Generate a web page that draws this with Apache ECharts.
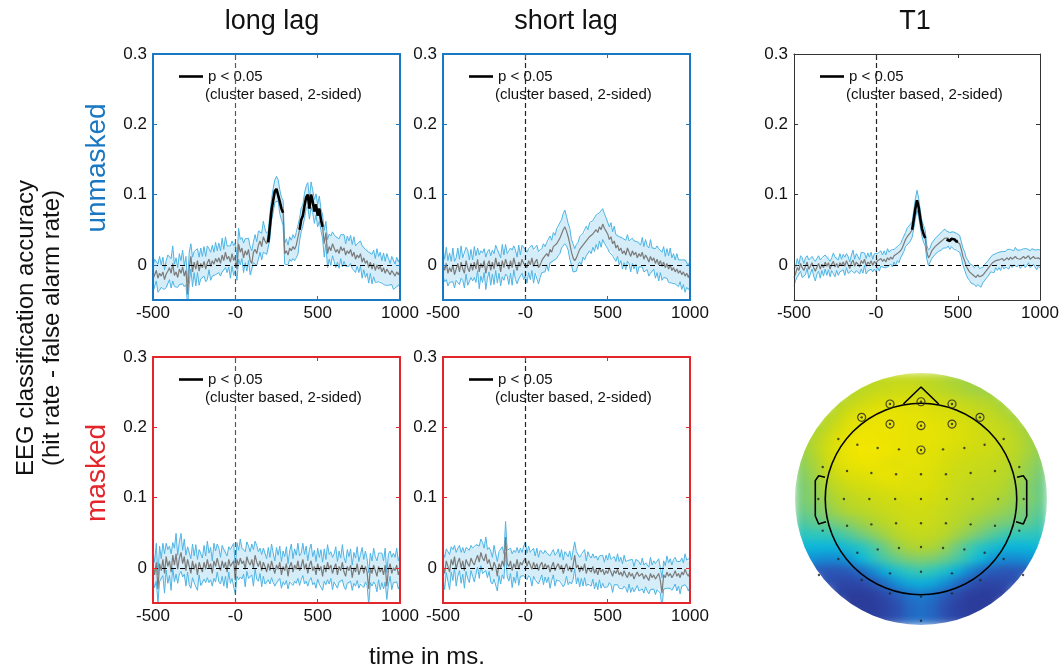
<!DOCTYPE html>
<html><head><meta charset="utf-8">
<script src="https://cdn.jsdelivr.net/npm/echarts@6/dist/echarts.min.js"></script>
<style>html,body{margin:0;padding:0;background:#fff}
#wrap{position:relative;width:1062px;height:672px}
#topo,#c{position:absolute;left:0;top:0;width:1062px;height:672px}
#topo{filter:blur(4px)}</style>
</head><body><div id="wrap"><div id="topo"></div><div id="c"></div></div>
<script>
// ---------------- data ----------------
const timeStart = -500, timeStep = 10;           // samples every 10 ms, -500 .. 1000
const xTickValues = [-500, 0, 500, 1000];
const xTickLabels = ['-500', '-0', '500', '1000'];
const yTickValues = [0, 0.1, 0.2, 0.3];
const yTickLabels = ['0', '0.1', '0.2', '0.3'];
const panelTitles = ['long lag', 'short lag', 'T1'];
const rowLabels = ['unmasked', 'masked'];
const yTitle1 = 'EEG classification accuracy';
const yTitle2 = '(hit rate - false alarm rate)';
const xTitle = 'time in ms.';
const legendLine1 = 'p < 0.05';
const legendLine2 = '(cluster based, 2-sided)';

// long lag, unmasked
const longLagUnmaskedMean = [
 -0.020,-0.014,-0.008,-0.019,-0.012,-0.016,-0.010,-0.021,-0.013,-0.009,
 -0.004,-0.012, 0.002,-0.015,-0.010,-0.018,-0.006,-0.012,-0.003,-0.016,
 -0.008,-0.042,-0.005, 0.012,-0.010, 0.004,-0.006, 0.006,-0.009, 0.002,
 -0.004, 0.005,-0.006, 0.003, 0.008,-0.002, 0.006, 0.001, 0.009, 0.004,
  0.010, 0.002, 0.014, 0.006, 0.018, 0.008, 0.012, 0.004, 0.016, 0.006,
  0.012,-0.006, 0.030, 0.018, 0.024, 0.010, 0.020, 0.014, 0.022, 0.006,
  0.002, 0.018, 0.022, 0.016, 0.028, 0.034, 0.026, 0.040, 0.034, 0.030,
  0.032, 0.055, 0.078, 0.092, 0.105, 0.108, 0.106, 0.090, 0.080, 0.074,
  0.016, 0.020, 0.014, 0.024, 0.020, 0.026, 0.022, 0.028, 0.030, 0.050,
  0.064, 0.070, 0.084, 0.096, 0.100, 0.080, 0.100, 0.090, 0.076, 0.086,
  0.070, 0.080, 0.064, 0.054, 0.030, 0.046, 0.016, 0.026, 0.020, 0.030,
  0.024, 0.018, 0.022, 0.016, 0.026, 0.020, 0.024, 0.014, 0.020, 0.016,
  0.022, 0.012, 0.018, 0.008, 0.014, 0.010, 0.016, 0.004, 0.010, 0.002,
  0.006,-0.004, 0.004,-0.006, 0.002,-0.008, 0.000,-0.006,-0.002,-0.010,
 -0.004,-0.012,-0.006,-0.010,-0.014,-0.008,-0.012,-0.016,-0.010,-0.014,
 -0.008];
const longLagUnmaskedSem = [
 0.018,0.022,0.015,0.020,0.024,0.016,0.021,0.014,0.019,0.023,
 0.017,0.021,0.025,0.016,0.020,0.014,0.022,0.018,0.024,0.015,
 0.020,0.016,0.023,0.018,0.021,0.015,0.024,0.017,0.020,0.022,
 0.016,0.021,0.018,0.024,0.015,0.020,0.022,0.017,0.023,0.016,
 0.021,0.018,0.024,0.016,0.022,0.019,0.015,0.023,0.018,0.021,
 0.020,0.016,0.022,0.018,0.015,0.021,0.017,0.023,0.016,0.020,
 0.018,0.015,0.021,0.017,0.020,0.016,0.019,0.022,0.017,0.015,
 0.016,0.018,0.015,0.017,0.016,0.018,0.015,0.017,0.016,0.018,
 0.015,0.017,0.014,0.016,0.015,0.017,0.016,0.018,0.015,0.016,
 0.017,0.015,0.018,0.016,0.017,0.015,0.018,0.016,0.017,0.015,
 0.016,0.018,0.015,0.017,0.019,0.016,0.020,0.018,0.021,0.017,
 0.019,0.022,0.018,0.021,0.017,0.023,0.019,0.016,0.021,0.018,
 0.020,0.017,0.022,0.019,0.016,0.021,0.018,0.023,0.017,0.020,
 0.018,0.022,0.016,0.021,0.019,0.017,0.023,0.018,0.020,0.016,
 0.021,0.017,0.022,0.019,0.016,0.020,0.023,0.017,0.021,0.018,
 0.019];
const longLagUnmaskedSig = [[200, 290], [390, 530]];

// short lag, unmasked
const shortLagUnmaskedMean = [
  0.004,-0.008, 0.002,-0.012,-0.004,-0.010, 0.000,-0.014,-0.006, 0.002,
 -0.010, 0.004,-0.006,-0.012, 0.006,-0.004,-0.010, 0.002,-0.008, 0.004,
 -0.006, 0.008,-0.010, 0.002,-0.004, 0.006,-0.012, 0.000, 0.006,-0.008,
  0.004,-0.006, 0.010,-0.002, 0.004,-0.010, 0.006,-0.004, 0.008, 0.000,
 -0.006, 0.006,-0.004, 0.010, 0.000,-0.008, 0.004,-0.002, 0.008, 0.002,
  0.004,-0.004, 0.006, 0.000, 0.010,-0.002, 0.004, 0.008,-0.004, 0.000,
  0.006, 0.010, 0.008, 0.016, 0.012, 0.022, 0.018, 0.026, 0.024, 0.030,
  0.032, 0.038, 0.044, 0.050, 0.054, 0.048, 0.040, 0.030, 0.018, 0.010,
  0.006, 0.010, 0.016, 0.022, 0.020, 0.028, 0.026, 0.034, 0.032, 0.040,
  0.038, 0.044, 0.042, 0.050, 0.046, 0.054, 0.050, 0.058, 0.052, 0.048,
  0.044, 0.036, 0.040, 0.030, 0.034, 0.024, 0.028, 0.020, 0.024, 0.016,
  0.020, 0.014, 0.024, 0.018, 0.012, 0.020, 0.014, 0.018, 0.010, 0.016,
  0.012, 0.018, 0.008, 0.014, 0.010, 0.004, 0.012, 0.006, 0.010, 0.002,
  0.008, 0.000, 0.006,-0.002, 0.004,-0.004, 0.002,-0.006, 0.000,-0.008,
 -0.004,-0.010,-0.006,-0.012,-0.008,-0.014,-0.010,-0.016,-0.012,-0.018,
 -0.012];
const shortLagUnmaskedSem = [
 0.020,0.016,0.023,0.018,0.021,0.015,0.024,0.019,0.016,0.022,
 0.018,0.023,0.016,0.021,0.019,0.025,0.017,0.020,0.015,0.022,
 0.019,0.016,0.024,0.018,0.021,0.017,0.023,0.019,0.016,0.021,
 0.017,0.022,0.018,0.024,0.016,0.020,0.023,0.018,0.021,0.016,
 0.022,0.018,0.025,0.017,0.021,0.019,0.024,0.016,0.020,0.023,
 0.019,0.022,0.017,0.021,0.018,0.024,0.016,0.020,0.023,0.018,
 0.017,0.020,0.018,0.016,0.021,0.019,0.017,0.020,0.018,0.021,
 0.019,0.022,0.020,0.023,0.024,0.021,0.019,0.022,0.018,0.020,
 0.017,0.019,0.016,0.018,0.020,0.017,0.019,0.021,0.018,0.020,
 0.022,0.019,0.023,0.021,0.024,0.020,0.025,0.022,0.021,0.019,
 0.021,0.018,0.020,0.017,0.021,0.019,0.016,0.020,0.018,0.022,
 0.017,0.021,0.019,0.016,0.022,0.018,0.020,0.017,0.023,0.019,
 0.016,0.021,0.018,0.022,0.017,0.020,0.024,0.018,0.016,0.021,
 0.019,0.023,0.017,0.020,0.022,0.016,0.021,0.019,0.024,0.018,
 0.020,0.017,0.022,0.019,0.016,0.021,0.018,0.023,0.020,0.017,
 0.019];
const shortLagUnmaskedSig = [];

// T1
const t1Mean = [
 -0.018,-0.012,-0.004,-0.008, 0.002,-0.004,-0.008,-0.002, 0.004,-0.006,
 -0.002, 0.003,-0.004,-0.009,-0.003, 0.002,-0.006, 0.001,-0.004, 0.004,
 -0.002, 0.003,-0.006, 0.001, 0.005,-0.003, 0.002,-0.004, 0.003,-0.001,
  0.004,-0.002, 0.006, 0.000,-0.005, 0.003, 0.007,-0.002, 0.004, 0.001,
 -0.003, 0.006, 0.002, 0.008,-0.002, 0.004, 0.001, 0.006,-0.001, 0.005,
  0.002, 0.006, 0.004, 0.009, 0.005, 0.008, 0.004, 0.010, 0.007, 0.011,
  0.008, 0.013, 0.011, 0.016, 0.014, 0.020, 0.024, 0.030, 0.036, 0.040,
  0.042, 0.046, 0.050, 0.064, 0.080, 0.092, 0.082, 0.066, 0.052, 0.044,
  0.038, 0.018, 0.010, 0.014, 0.020, 0.022, 0.026, 0.028, 0.030, 0.032,
  0.034, 0.036, 0.038, 0.036, 0.038, 0.034, 0.037, 0.035, 0.036, 0.033,
  0.034, 0.030, 0.022, 0.012, 0.006,-0.002,-0.006,-0.010,-0.012,-0.014,
 -0.016,-0.018,-0.014,-0.017,-0.019,-0.015,-0.012,-0.010,-0.006,-0.004,
  0.000, 0.003, 0.002, 0.006, 0.004, 0.007, 0.005, 0.009, 0.006, 0.008,
  0.010, 0.007, 0.011, 0.008, 0.010, 0.012, 0.009, 0.011, 0.008, 0.010,
  0.012, 0.009, 0.011, 0.013, 0.008, 0.010, 0.012, 0.009, 0.007, 0.010,
  0.008];
const t1Sem = [
 0.012,0.010,0.013,0.009,0.011,0.014,0.010,0.012,0.009,0.013,
 0.011,0.009,0.012,0.014,0.010,0.011,0.013,0.009,0.012,0.010,
 0.013,0.010,0.011,0.009,0.012,0.014,0.010,0.011,0.013,0.009,
 0.011,0.013,0.010,0.012,0.009,0.011,0.014,0.010,0.012,0.011,
 0.010,0.012,0.014,0.009,0.011,0.013,0.010,0.012,0.009,0.011,
 0.012,0.010,0.013,0.011,0.009,0.012,0.010,0.013,0.011,0.010,
 0.011,0.009,0.012,0.010,0.011,0.010,0.012,0.011,0.010,0.012,
 0.011,0.012,0.011,0.013,0.014,0.014,0.013,0.012,0.011,0.012,
 0.011,0.010,0.011,0.010,0.011,0.012,0.011,0.012,0.011,0.012,
 0.013,0.012,0.013,0.012,0.011,0.012,0.011,0.012,0.011,0.012,
 0.011,0.012,0.011,0.012,0.013,0.012,0.013,0.012,0.014,0.013,
 0.012,0.013,0.014,0.012,0.013,0.011,0.012,0.010,0.011,0.012,
 0.010,0.011,0.013,0.010,0.012,0.011,0.013,0.010,0.012,0.011,
 0.012,0.013,0.011,0.012,0.010,0.013,0.012,0.011,0.013,0.012,
 0.011,0.013,0.012,0.010,0.012,0.013,0.011,0.012,0.014,0.012,
 0.013];
const t1Sig = [[220, 300], [430, 500]];

// long lag, masked
const longLagMaskedMean = [
  0.004,-0.010, 0.008,-0.030, 0.006,-0.004, 0.012,-0.008, 0.016, 0.002,
  0.010,-0.006, 0.018, 0.004, 0.020,-0.002, 0.014, 0.022, 0.006, 0.016,
 -0.004, 0.012, 0.002,-0.008, 0.010,-0.002, 0.006,-0.010, 0.008, 0.000,
 -0.006, 0.008,-0.002, 0.012, 0.000, 0.006,-0.008, 0.010, 0.002, 0.014,
  0.004,-0.004, 0.010, 0.000, 0.008,-0.006, 0.012, 0.002, 0.006, 0.010,
 -0.018, 0.012, 0.004, 0.014, 0.006, 0.010,-0.002, 0.016, 0.008, 0.004,
  0.012, 0.000, 0.018, 0.008, 0.002, 0.010,-0.004, 0.008, 0.002,-0.006,
  0.006,-0.004, 0.010, 0.000,-0.008, 0.004,-0.002, 0.008,-0.010, 0.002,
 -0.004, 0.006,-0.012, 0.002, 0.008,-0.006, 0.004,-0.002, 0.010,-0.004,
  0.002, 0.012,-0.002, 0.006,-0.008, 0.004, 0.010,-0.004, 0.002,-0.010,
  0.006,-0.004, 0.002,-0.012, 0.004,-0.006, 0.008,-0.002, 0.004,-0.008,
  0.000, 0.006,-0.010, 0.002,-0.004, 0.008,-0.006,-0.012, 0.002,-0.004,
  0.004,-0.014, 0.000,-0.006, 0.006,-0.010,-0.002, 0.004,-0.008, 0.002,
 -0.006,-0.030, 0.000,-0.008, 0.004,-0.004,-0.012, 0.002,-0.006, 0.000,
 -0.010, 0.004,-0.026,-0.002, 0.006,-0.008, 0.000,-0.004, 0.004,-0.010,
 -0.002];
const longLagMaskedSem = [
 0.022,0.018,0.027,0.020,0.025,0.017,0.023,0.028,0.019,0.024,
 0.021,0.026,0.018,0.024,0.029,0.020,0.023,0.027,0.019,0.025,
 0.022,0.018,0.026,0.021,0.024,0.019,0.027,0.022,0.018,0.025,
 0.020,0.024,0.019,0.026,0.021,0.023,0.018,0.025,0.022,0.020,
 0.024,0.019,0.022,0.026,0.020,0.023,0.018,0.024,0.021,0.025,
 0.020,0.024,0.021,0.027,0.022,0.019,0.025,0.021,0.023,0.019,
 0.022,0.026,0.020,0.024,0.021,0.018,0.023,0.020,0.025,0.019,
 0.023,0.019,0.024,0.021,0.018,0.025,0.020,0.023,0.019,0.022,
 0.020,0.024,0.018,0.022,0.026,0.019,0.023,0.020,0.025,0.021,
 0.019,0.023,0.021,0.025,0.018,0.022,0.024,0.020,0.023,0.019,
 0.022,0.019,0.024,0.020,0.023,0.018,0.025,0.021,0.019,0.023,
 0.020,0.024,0.019,0.022,0.018,0.025,0.021,0.019,0.024,0.020,
 0.023,0.018,0.022,0.020,0.024,0.019,0.021,0.025,0.020,0.022,
 0.019,0.023,0.021,0.018,0.024,0.020,0.022,0.019,0.025,0.021,
 0.020,0.024,0.019,0.022,0.018,0.023,0.021,0.019,0.024,0.020,
 0.022];
const longLagMaskedSig = [];

// short lag, masked
const shortLagMaskedMean = [
  0.004,-0.008, 0.010, 0.002,-0.006, 0.012, 0.004, 0.016,-0.002, 0.008,
  0.014, 0.000, 0.010,-0.004, 0.012, 0.006, 0.002, 0.014, 0.008, 0.004,
  0.012, 0.018, 0.008, 0.022, 0.014, 0.010, 0.020, 0.006, 0.012, 0.002,
 -0.004, 0.008, 0.002,-0.012, 0.006, 0.000, 0.010, 0.002, 0.044, 0.006,
  0.002, 0.010,-0.004, 0.006, 0.000, 0.012,-0.002, 0.008, 0.004, 0.010,
  0.014, 0.002, 0.010, 0.004,-0.002, 0.008, 0.000, 0.006,-0.004, 0.004,
  0.008,-0.002, 0.006, 0.000, 0.004,-0.006, 0.002, 0.008,-0.004, 0.002,
  0.006,-0.002, 0.004,-0.008, 0.000, 0.006,-0.004, 0.002,-0.006, 0.004,
  0.018, 0.000, 0.004,-0.006, 0.002,-0.004, 0.006,-0.008, 0.000,-0.002,
 -0.006, 0.002,-0.008,-0.002,-0.010, 0.000,-0.006,-0.002,-0.010,-0.004,
 -0.008, 0.000,-0.006,-0.012,-0.004,-0.008,-0.002,-0.010,-0.006,-0.012,
 -0.004,-0.010,-0.014,-0.006,-0.012,-0.008,-0.016,-0.010,-0.006,-0.012,
 -0.014,-0.008,-0.016,-0.010,-0.012,-0.018,-0.008,-0.014,-0.010,-0.016,
 -0.012,-0.008,-0.018,-0.036,-0.010,-0.014,-0.006,-0.012,-0.008,-0.014,
 -0.010,-0.004,-0.012,-0.008,-0.014,-0.006,-0.010,-0.002,-0.008,-0.012,
 -0.006];
const shortLagMaskedSem = [
 0.019,0.023,0.017,0.021,0.025,0.018,0.022,0.016,0.024,0.020,
 0.018,0.022,0.019,0.025,0.017,0.021,0.023,0.018,0.020,0.024,
 0.021,0.017,0.023,0.019,0.022,0.018,0.024,0.020,0.017,0.022,
 0.019,0.024,0.018,0.021,0.017,0.023,0.020,0.018,0.022,0.019,
 0.021,0.018,0.024,0.019,0.022,0.017,0.023,0.020,0.018,0.021,
 0.023,0.019,0.021,0.018,0.024,0.020,0.017,0.022,0.019,0.021,
 0.018,0.022,0.019,0.021,0.017,0.023,0.020,0.018,0.022,0.019,
 0.021,0.017,0.022,0.019,0.023,0.018,0.020,0.022,0.017,0.021,
 0.019,0.023,0.018,0.021,0.017,0.022,0.020,0.018,0.023,0.019,
 0.020,0.018,0.022,0.019,0.021,0.017,0.023,0.020,0.018,0.022,
 0.019,0.021,0.018,0.023,0.020,0.017,0.022,0.019,0.021,0.018,
 0.022,0.019,0.021,0.017,0.023,0.020,0.018,0.022,0.019,0.021,
 0.018,0.022,0.020,0.017,0.021,0.019,0.023,0.018,0.020,0.022,
 0.019,0.021,0.018,0.022,0.020,0.017,0.023,0.019,0.021,0.018,
 0.022,0.019,0.021,0.018,0.023,0.020,0.017,0.022,0.019,0.021,
 0.020];
const shortLagMaskedSig = [];

// T1 topography (relative scale 0..1), 21 x 21 cells, rows top (frontal) to bottom (occipital)
const topoRows = [
 [null,null,null,null,null,0.80,0.82,0.84,0.85,0.85,0.84,0.83,0.80,0.78,0.77,0.76,null,null,null,null,null],
 [null,null,null,null,0.80,0.83,0.85,0.86,0.87,0.88,0.86,0.84,0.82,0.80,0.78,0.77,0.76,null,null,null,null],
 [null,null,null,0.80,0.84,0.87,0.90,0.92,0.93,0.92,0.92,0.90,0.88,0.86,0.84,0.82,0.80,0.77,null,null,null],
 [null,null,0.80,0.84,0.90,0.94,0.96,0.97,0.96,0.95,0.95,0.93,0.92,0.90,0.88,0.86,0.84,0.80,0.77,null,null],
 [null,0.78,0.82,0.88,0.94,0.97,0.98,0.98,0.97,0.96,0.96,0.95,0.94,0.92,0.90,0.88,0.86,0.84,0.80,0.76,null],
 [0.76,0.80,0.86,0.93,0.97,0.99,0.99,0.98,0.97,0.96,0.96,0.95,0.94,0.92,0.90,0.88,0.87,0.85,0.82,0.78,0.74],
 [0.76,0.80,0.87,0.94,0.98,1.00,1.00,0.99,0.97,0.96,0.95,0.94,0.92,0.90,0.89,0.88,0.87,0.85,0.82,0.78,0.74],
 [0.74,0.78,0.85,0.92,0.96,0.98,0.98,0.96,0.94,0.95,0.95,0.93,0.90,0.88,0.87,0.86,0.85,0.83,0.80,0.76,0.72],
 [0.72,0.76,0.82,0.88,0.92,0.93,0.95,0.97,0.96,0.94,0.93,0.92,0.89,0.87,0.86,0.85,0.84,0.82,0.78,0.74,0.70],
 [0.70,0.74,0.79,0.84,0.87,0.89,0.90,0.92,0.93,0.92,0.92,0.91,0.88,0.86,0.84,0.83,0.82,0.80,0.76,0.72,0.68],
 [0.70,0.73,0.76,0.80,0.83,0.85,0.87,0.88,0.89,0.90,0.90,0.89,0.87,0.85,0.83,0.82,0.80,0.78,0.75,0.72,0.68],
 [0.68,0.70,0.73,0.77,0.80,0.82,0.84,0.86,0.87,0.88,0.88,0.87,0.85,0.83,0.81,0.79,0.77,0.75,0.72,0.69,0.66],
 [0.64,0.66,0.68,0.70,0.73,0.76,0.79,0.82,0.85,0.87,0.87,0.86,0.84,0.81,0.78,0.75,0.72,0.70,0.68,0.66,0.63],
 [0.58,0.60,0.60,0.62,0.65,0.69,0.73,0.77,0.81,0.84,0.85,0.84,0.81,0.77,0.73,0.69,0.65,0.62,0.60,0.60,0.58],
 [0.52,0.50,0.50,0.50,0.54,0.58,0.63,0.69,0.75,0.79,0.80,0.79,0.75,0.69,0.63,0.58,0.54,0.50,0.50,0.50,0.52],
 [0.42,0.40,0.38,0.38,0.42,0.50,0.58,0.64,0.68,0.71,0.72,0.71,0.68,0.64,0.58,0.50,0.42,0.38,0.38,0.40,0.42],
 [null,0.22,0.20,0.20,0.22,0.28,0.38,0.48,0.55,0.60,0.62,0.60,0.55,0.48,0.38,0.28,0.22,0.20,0.20,0.22,null],
 [null,null,0.18,0.14,0.12,0.14,0.20,0.30,0.40,0.46,0.48,0.46,0.40,0.30,0.20,0.13,0.12,0.14,0.17,null,null],
 [null,null,null,0.10,0.07,0.06,0.08,0.14,0.22,0.30,0.34,0.30,0.22,0.14,0.08,0.06,0.07,0.10,null,null,null],
 [null,null,null,null,0.06,0.05,0.06,0.10,0.16,0.26,0.30,0.26,0.16,0.10,0.06,0.05,0.06,null,null,null,null],
 [null,null,null,null,null,0.08,0.10,0.12,0.18,0.26,0.30,0.26,0.18,0.12,0.10,0.08,null,null,null,null,null]
];
// electrode positions (head outer radius = 1)
const electrodes = [
 [-0.656,0.476],[-0.505,0.431],[-0.344,0.405],[-0.175,0.394],[0.175,0.394],[0.344,0.405],[0.505,0.431],[0.656,0.476],
 [-0.78,0.254],[-0.587,0.222],[-0.394,0.206],[-0.198,0.196],[0,0.196],[0.198,0.196],[0.394,0.206],[0.587,0.222],[0.78,0.254],
 [-0.815,0],[-0.612,0],[-0.41,0],[-0.205,0],[0,0],[0.205,0],[0.41,0],[0.612,0],[0.815,0],
 [-0.78,-0.251],[-0.587,-0.212],[-0.394,-0.201],[-0.198,-0.193],[0,-0.193],[0.198,-0.193],[0.394,-0.201],[0.587,-0.212],[0.78,-0.251],
 [-0.656,-0.476],[-0.505,-0.426],[-0.344,-0.4],[-0.175,-0.389],[0,-0.381],[0.175,-0.389],[0.344,-0.4],[0.505,-0.426],[0.656,-0.476],
 [-0.81,-0.603],[-0.471,-0.643],[-0.246,-0.59],[0,-0.577],[0.246,-0.59],[0.471,-0.643],[0.81,-0.603],
 [-0.246,-0.749],[0,-0.775],[0.246,-0.749],
 [0,-0.966]
];
const markedElectrodes = [
 [-0.246,0.754],[0,0.772],[0.246,0.754],[-0.471,0.648],[0.468,0.648],
 [-0.246,0.595],[0,0.582],[0.246,0.595],[0,0.389]
];
const headRadius = 0.76;
const noseOutline = [[-0.14,0.754],[0,0.889],[0.14,0.754]];
const leftEarOutline = [[-0.762,0.172],[-0.812,0.185],[-0.839,0.146],[-0.839,-0.135],[-0.812,-0.198],[-0.754,-0.18]];
const rightEarOutline = [[0.762,0.172],[0.812,0.185],[0.839,0.146],[0.839,-0.135],[0.812,-0.198],[0.754,-0.18]];

// ---------------- layout / style ----------------
const FONT = '"Liberation Sans", Arial, Helvetica, sans-serif';
const BLUE = '#1a78c2', RED = '#e3262b';
const panels = [
  {mean: longLagUnmaskedMean,  sem: longLagUnmaskedSem,  sig: longLagUnmaskedSig,  rect: [153, 54, 247, 246], frame: BLUE, fw: 2, vz: '#5a5a5a'},
  {mean: shortLagUnmaskedMean, sem: shortLagUnmaskedSem, sig: shortLagUnmaskedSig, rect: [443, 54, 247, 246], frame: BLUE, fw: 2, vz: '#222'},
  {mean: t1Mean,               sem: t1Sem,               sig: t1Sig,               rect: [794, 54, 246, 246], frame: '#333', fw: 1, vz: '#222'},
  {mean: longLagMaskedMean,    sem: longLagMaskedSem,    sig: longLagMaskedSig,    rect: [153, 357, 247, 246], frame: RED, fw: 2, vz: '#5a5a5a'},
  {mean: shortLagMaskedMean,   sem: shortLagMaskedSem,   sig: shortLagMaskedSig,   rect: [443, 357, 247, 246], frame: RED, fw: 2, vz: '#222'}
];
const topoRect = [795, 373, 252, 252];
const topoColors = ['#2a3490', '#2c42a2', '#2b56b6', '#2070c8', '#1292d6', '#0cb6da', '#30c6bc', '#78cc78', '#b2d52e', '#d6dd0c', '#f2e600'];

panels.forEach((p, i) => {
  if (p.mean.length !== 151 || p.sem.length !== 151) throw new Error('panel ' + i + ' lengths ' + p.mean.length + '/' + p.sem.length);
});

const grid = [], xAxis = [], yAxis = [], series = [], legend = [];
const fmtX = v => { const k = xTickValues.findIndex(t => Math.abs(t - v) < 1e-9); return k < 0 ? '' : xTickLabels[k]; };
const fmtY = v => { const k = yTickValues.findIndex(t => Math.abs(t - v) < 1e-9); return k < 0 ? '' : yTickLabels[k]; };

panels.forEach((p, i) => {
  const [L, T, W, H] = p.rect;
  grid.push({left: L, top: T, width: W, height: H, containLabel: false});
  const axLine = {show: true, onZero: false, lineStyle: {color: p.frame, width: p.fw}};
  const tick = (vals) => ({show: true, inside: true, length: 4, customValues: vals, lineStyle: {color: p.frame, width: 1}});
  xAxis.push({gridIndex: i, type: 'value', position: 'bottom', min: -500, max: 1000, z: 8,
    axisLine: axLine, axisTick: tick(xTickValues), splitLine: {show: false},
    axisLabel: {customValues: xTickValues, formatter: fmtX, fontSize: 17, fontFamily: FONT, color: '#111', margin: 5}});
  xAxis.push({gridIndex: i, type: 'value', position: 'top', min: -500, max: 1000, z: 8,
    axisLine: axLine, axisTick: tick(xTickValues), splitLine: {show: false}, axisLabel: {show: false}});
  yAxis.push({gridIndex: i, type: 'value', position: 'left', min: -0.05, max: 0.3, z: 8,
    axisLine: axLine, axisTick: tick(yTickValues), splitLine: {show: false},
    axisLabel: {customValues: yTickValues, formatter: fmtY, fontSize: 17, fontFamily: FONT, color: '#111', margin: 6}});
  yAxis.push({gridIndex: i, type: 'value', position: 'right', min: -0.05, max: 0.3, z: 8,
    axisLine: axLine, axisTick: tick(yTickValues), splitLine: {show: false}, axisLabel: {show: false}});

  const times = p.mean.map((_, k) => timeStart + k * timeStep);
  const upper = p.mean.map((m, k) => m + p.sem[k]);
  const lower = p.mean.map((m, k) => m - p.sem[k]);
  const ax = {xAxisIndex: 2 * i, yAxisIndex: 2 * i};
  series.push(Object.assign({
    type: 'custom', silent: true, clip: true, z: 2,
    data: times.map((t, k) => [t, lower[k], upper[k]]),
    encode: {x: 0, y: [1, 2]},
    renderItem: (params, api) => {
      if (params.dataIndex !== 0) return null;
      const pts = [];
      for (let k = 0; k < times.length; k++) pts.push(api.coord([times[k], upper[k]]));
      for (let k = times.length - 1; k >= 0; k--) pts.push(api.coord([times[k], lower[k]]));
      return {type: 'polygon', shape: {points: pts}, style: {fill: 'rgba(90,185,228,0.26)'}};
    }
  }, ax));
  const bandLine = arr => Object.assign({type: 'line', silent: true, symbol: 'none', z: 3,
    data: times.map((t, k) => [t, arr[k]]), lineStyle: {color: '#4fb4e4', width: 1}}, ax);
  series.push(bandLine(upper), bandLine(lower));
  series.push(Object.assign({type: 'line', silent: true, symbol: 'none', z: 4,
    data: times.map((t, k) => [t, p.mean[k]]), lineStyle: {color: '#7b7b7b', width: 1.2}}, ax));
  const inSig = t => p.sig.some(w => t >= w[0] && t <= w[1]);
  series.push(Object.assign({type: 'line', name: legendLine1, silent: true, symbol: 'none', z: 5,
    data: times.map((t, k) => [t, inSig(t) ? p.mean[k] : null]), connectNulls: false,
    itemStyle: {color: '#000'}, lineStyle: {color: '#000', width: 2.6},
    markLine: {silent: true, symbol: 'none', label: {show: false}, animation: false,
      data: [
        {xAxis: 0, lineStyle: {color: p.vz, type: [5, 3], width: 1.2}},
        {yAxis: 0, lineStyle: {color: '#000', type: [5, 4], width: 1}}
      ]}}, ax));
  legend.push({left: L + 26, top: T + 15, data: [legendLine1], icon: 'rect', itemWidth: 24, itemHeight: 2.6,
    selectedMode: false, padding: 0, textStyle: {fontSize: 15, fontFamily: FONT, color: '#111'}});
});

// ---- topography: smooth colour layer (separate chart instance, softened with CSS blur) ----
const hidden = {axisLine: {show: false}, axisTick: {show: false}, axisLabel: {show: false}, splitLine: {show: false}};
const cats = topoRows[0].map((_, c) => String(c));
const rowsCats = topoRows.map((_, r) => String(r));
const heatData = [];
topoRows.forEach((row, r) => row.forEach((v, c) => { if (v !== null) heatData.push([c, r, v]); }));
const topoChart = echarts.init(document.getElementById('topo'), null, {renderer: 'canvas'});
topoChart.setOption({
  animation: false, backgroundColor: 'transparent',
  grid: {left: topoRect[0], top: topoRect[1], width: topoRect[2], height: topoRect[3]},
  xAxis: Object.assign({type: 'category', data: cats}, hidden),
  yAxis: Object.assign({type: 'category', data: rowsCats, inverse: true}, hidden),
  visualMap: {type: 'continuous', show: false, min: 0, max: 1, dimension: 2, inRange: {color: topoColors}},
  series: [{type: 'heatmap', data: heatData, silent: true, itemStyle: {borderWidth: 0}, emphasis: {disabled: true}, progressive: 0}]
});

// head outline & electrodes on the main chart
const gV = panels.length;
grid.push({left: topoRect[0], top: topoRect[1], width: topoRect[2], height: topoRect[3]});
xAxis.push(Object.assign({gridIndex: gV, type: 'value', min: -1, max: 1}, hidden));
yAxis.push(Object.assign({gridIndex: gV, type: 'value', min: -1, max: 1}, hidden));
const axV = {xAxisIndex: 2 * gV, yAxisIndex: 2 * gV};
const outline = pts => Object.assign({type: 'line', data: pts, symbol: 'none',
  silent: true, z: 6, lineStyle: {color: '#000', width: 1.6}}, axV);
series.push(outline(noseOutline), outline(leftEarOutline), outline(rightEarOutline));
series.push(Object.assign({type: 'scatter', data: electrodes.concat(markedElectrodes),
  symbol: 'circle', symbolSize: 2.4, itemStyle: {color: '#222'}, silent: true, z: 7}, axV));
series.push(Object.assign({type: 'scatter', data: markedElectrodes,
  symbol: 'circle', symbolSize: 8, itemStyle: {color: 'rgba(0,0,0,0)', borderColor: '#222', borderWidth: 1.2}, silent: true, z: 7}, axV));

const txt = (text, x, y, size, color, rot, align) => ({type: 'text', x, y, rotation: rot || 0, silent: true,
  style: {text, fill: color || '#111', font: size + 'px ' + FONT, textAlign: align || 'center', textVerticalAlign: 'middle'}});
const texts = [
  txt(panelTitles[0], 272, 22, 27), txt(panelTitles[1], 566, 22, 27), txt(panelTitles[2], 915, 22, 27),
  txt(rowLabels[0], 97, 168, 28, BLUE, Math.PI / 2), txt(rowLabels[1], 97, 473, 28, RED, Math.PI / 2),
  txt(yTitle1, 26, 328, 24, '#111', Math.PI / 2), txt(yTitle2, 52, 328, 24, '#111', Math.PI / 2),
  txt(xTitle, 427, 657, 24)
];
panels.forEach(p => texts.push(txt(legendLine2, p.rect[0] + 52, p.rect[1] + 41, 15, '#111', 0, 'left')));

const chart = echarts.init(document.getElementById('c'), null, {renderer: 'canvas'});
chart.setOption({animation: false, backgroundColor: 'transparent', grid, xAxis, yAxis, series, legend,
  graphic: {elements: texts}});
const c0 = chart.convertToPixel({gridIndex: gV}, [0, 0]);
const c1 = chart.convertToPixel({gridIndex: gV}, [1, 0]);
const R = c1[0] - c0[0];
chart.setOption({graphic: {elements: texts.concat([
  {type: 'ring', silent: true, z: 3, shape: {cx: c0[0], cy: c0[1], r: R + 38, r0: R}, style: {fill: '#fff'}},
  {type: 'circle', silent: true, z: 6, shape: {cx: c0[0], cy: c0[1], r: R * headRadius}, style: {fill: 'none', stroke: '#000', lineWidth: 1.6}}
])}});
</script></body></html>
